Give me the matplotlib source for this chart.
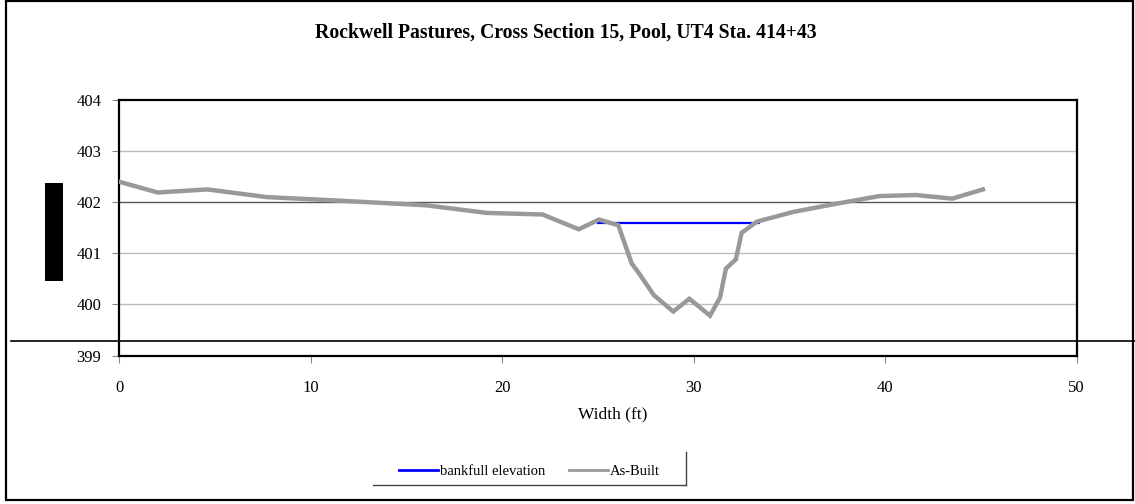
import matplotlib
matplotlib.use('Agg')
import matplotlib.pyplot as plt
from matplotlib.patches import Rectangle
from matplotlib.lines import Line2D

plt.rcParams['font.family'] = ['Liberation Serif', 'DejaVu Serif']

# Surveyed cross section (station ft, elevation ft)
station = [0.0, 2.0, 4.6, 7.7, 11.5, 16.0, 19.2, 22.1, 24.0, 25.05, 26.06,
           26.76, 27.1, 27.92, 28.93, 29.77, 30.85, 31.37, 31.68, 32.2,
           32.5, 33.3, 35.2, 37.3, 39.7, 41.6, 43.5, 45.1]
elevation = [402.40, 402.19, 402.25, 402.10, 402.03, 401.94, 401.79, 401.76,
             401.47, 401.66, 401.55, 400.80, 400.63, 400.18, 399.86, 400.11,
             399.78, 400.13, 400.70, 400.88, 401.40, 401.62, 401.81, 401.96,
             402.12, 402.14, 402.07, 402.25]

# Bankfull elevation line
bankfull_station = [25.0, 33.4]
bankfull_elev = [401.6, 401.6]

title = "Rockwell Pastures, Cross Section 15, Pool, UT4 Sta. 414+43"

W, H = 1135, 504
fig = plt.figure(figsize=(W / 100, H / 100), dpi=100)
ax = fig.add_axes([119.3 / W, 1 - 355.5 / H, (1076.7 - 119.3) / W, (355.5 - 100) / H])

ax.set_xlim(0, 50)
ax.set_ylim(399, 404)
ax.set_xticks(range(0, 51, 10))
ax.set_yticks(range(399, 405))

# gridlines (402 drawn darker)
for y in range(400, 404):
    ax.axhline(y, color='#555555' if y == 402 else '#bdbdbd', lw=1.0, zorder=1)

ax.plot(bankfull_station, bankfull_elev, color='#0000ff', lw=1.6, zorder=2,
        label='bankfull elevation')
ax.plot(station, elevation, color='#999999', lw=3.2, zorder=3,
        solid_joinstyle='miter', label='As-Built')

for s in ax.spines.values():
    s.set_linewidth(1.6)
    s.set_color('black')
ax.tick_params(axis='both', direction='out', length=5, width=0.8, color='#888888',
               labelsize=12)
ax.tick_params(axis='y', pad=8)
ax.tick_params(axis='x', pad=13)
ax.set_xlabel('Width (ft)', fontsize=12.5)
ax.xaxis.set_label_coords((613 - 119.3) / (1076.7 - 119.3), -(414 - 355.5) / (355.5 - 100))
ax.xaxis.label.set_va('center')

fig.text(566 / W, 1 - 33 / H, title, ha='center', va='center',
         fontsize=14.2, fontweight='bold')

# legend
fig.legend(handles=[Line2D([], [], color='#0000ff', lw=2),
                    Line2D([], [], color='#999999', lw=2)],
           labels=['bankfull elevation', 'As-Built'],
           loc='center', bbox_to_anchor=(529.5 / W, 1 - 471 / H), ncol=2,
           frameon=False, fontsize=10.5, handlelength=2.7, handletextpad=0.15,
           columnspacing=1.6)

# legend border (bottom and right edges only)
fig.add_artist(Line2D([373 / W, 686 / W], [1 - 485 / H, 1 - 485 / H], color='#444444', lw=1.0))
fig.add_artist(Line2D([686 / W, 686 / W], [1 - 485 / H, 1 - 452 / H], color='#444444', lw=1.0))

# horizontal rule through the lower plot area
fig.add_artist(Line2D([11 / W, 1.0], [1 - 340.5 / H, 1 - 340.5 / H], color='black', lw=1.2))

# black block on the left
fig.add_artist(Rectangle((45 / W, 1 - 281 / H), 18 / W, 98 / H, color='black', lw=0))

# outer chart border
fig.add_artist(Rectangle((6 / W, 1 - 500 / H), 1127 / W, 499 / H, fill=False,
                         edgecolor='black', lw=1.6))

fig.savefig('out.png', dpi=100)
plt.close(fig)
